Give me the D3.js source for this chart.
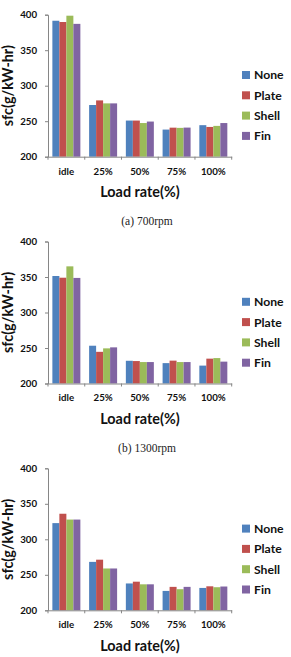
<!DOCTYPE html>
<html><head><meta charset="utf-8">
<script src="https://cdn.jsdelivr.net/npm/d3@7"></script>
<style>body{margin:0;background:#fff}svg{display:block}</style>
</head><body>
<svg id="chart" width="291" height="657"></svg>
<script>
const categories = ["idle", "25%", "50%", "75%", "100%"];
const seriesNames = ["None", "Plate", "Shell", "Fin"];
const colors = ["#4F81BD", "#C0504D", "#9BBB59", "#8064A2"];
const yTicks = [200, 250, 300, 350, 400];
const captions = ["(a)  700rpm", "(b)  1300rpm", ""];
// values[series][category] for each panel
const rpm700 = [
  [391.5, 272.8, 250.9, 238.2, 244.4],
  [389.7, 279.3, 250.9, 240.9, 241.9],
  [398.6, 275.1, 247.4, 240.6, 243.4],
  [387.1, 275.1, 249.5, 241.0, 247.4]
];
const rpm1300 = [
  [351.4, 253.2, 232.0, 228.7, 225.2],
  [349.0, 244.6, 231.6, 232.2, 235.0],
  [365.0, 249.5, 230.2, 230.2, 235.8],
  [348.7, 250.9, 230.2, 230.2, 230.8]
];
const rpm3 = [
  [322.8, 268.2, 237.8, 227.3, 231.5],
  [336.0, 271.3, 240.3, 233.0, 233.8],
  [327.8, 258.9, 236.6, 229.7, 232.5],
  [327.8, 258.9, 236.6, 233.0, 233.5]
];
const panels = [rpm700, rpm1300, rpm3];

const svg = d3.select("#chart");
const font = "Lato, 'Open Sans', sans-serif";
const axisColor = "#868686";
const textColor = "#111";
const panelStep = 226.8;

panels.forEach((vals, pi) => {
  const dy = pi * panelStep;
  const g = svg.append("g").attr("transform", `translate(0,${dy})`);
  const y = d3.scaleLinear().domain([200, 400]).range([156.7, 14.7]);
  const x0 = d3.scaleBand().domain(categories).range([48, 231.7]).paddingInner(0.238).paddingOuter(0.119);
  const x1 = d3.scaleBand().domain(seriesNames).range([0, x0.bandwidth()]);

  // bars
  seriesNames.forEach((s, si) => {
    g.append("g").selectAll("rect").data(vals[si]).join("rect")
      .attr("x", (d, ci) => x0(categories[ci]) + x1(s))
      .attr("y", d => y(d))
      .attr("width", x1.bandwidth())
      .attr("height", d => y(200) - y(d))
      .attr("fill", colors[si]);
  });

  // y axis
  const ya = g.append("g").attr("transform", "translate(48,0)")
    .call(d3.axisLeft(y).tickValues(yTicks).tickSize(3).tickPadding(8));
  ya.select(".domain").attr("stroke", axisColor);
  ya.selectAll(".tick line").attr("stroke", axisColor);
  ya.selectAll("text").attr("font-family", font).attr("font-weight", "bold")
    .attr("font-size", 9.7).attr("fill", textColor);

  // x axis
  const xa = g.append("g").attr("transform", `translate(0,${y(200)})`)
    .call(d3.axisBottom(x0).tickSize(0).tickPadding(11));
  xa.select(".domain").attr("stroke", axisColor);
  xa.selectAll("text").attr("font-family", font).attr("font-weight", "bold")
    .attr("font-size", 9.7).attr("fill", textColor);
  // category boundary ticks
  const bounds = categories.map(c => x0(c) - x0.step() * x0.paddingOuter()).concat([231.7]);
  g.append("g").selectAll("line").data(bounds).join("line")
    .attr("x1", d => d).attr("x2", d => d)
    .attr("y1", y(200)).attr("y2", y(200) + 3)
    .attr("stroke", axisColor);

  // axis titles
  g.append("text").attr("x", 140).attr("y", 197)
    .attr("text-anchor", "middle").attr("font-family", font).attr("font-weight", "bold")
    .attr("font-size", 14.4).attr("fill", textColor).text("Load rate(%)");
  g.append("text").attr("transform", `translate(12.5,${(y(200) + y(400)) / 2}) rotate(-90)`)
    .attr("text-anchor", "middle").attr("font-family", font).attr("font-weight", "bold")
    .attr("font-size", 14.4).attr("fill", textColor).text("sfc(g/kW-hr)");

  // legend
  const lg = g.append("g").selectAll("g").data(seriesNames).join("g")
    .attr("transform", (d, i) => `translate(242,${75 + i * 20.3})`);
  lg.append("rect").attr("x", 0).attr("y", -4).attr("width", 8).attr("height", 8)
    .attr("fill", (d, i) => colors[i]);
  lg.append("text").attr("x", 12).attr("y", 4.4).attr("font-family", font)
    .attr("font-weight", "bold").attr("font-size", 12.2).attr("fill", textColor).text(d => d);

  // caption
  if (captions[pi]) {
    g.append("text").attr("x", 147).attr("y", 225).attr("text-anchor", "middle")
      .attr("font-family", "'Liberation Serif', 'DejaVu Serif', serif")
      .attr("font-size", 11.5).attr("fill", "#222").text(captions[pi]);
  }
});
</script>
</body></html>
